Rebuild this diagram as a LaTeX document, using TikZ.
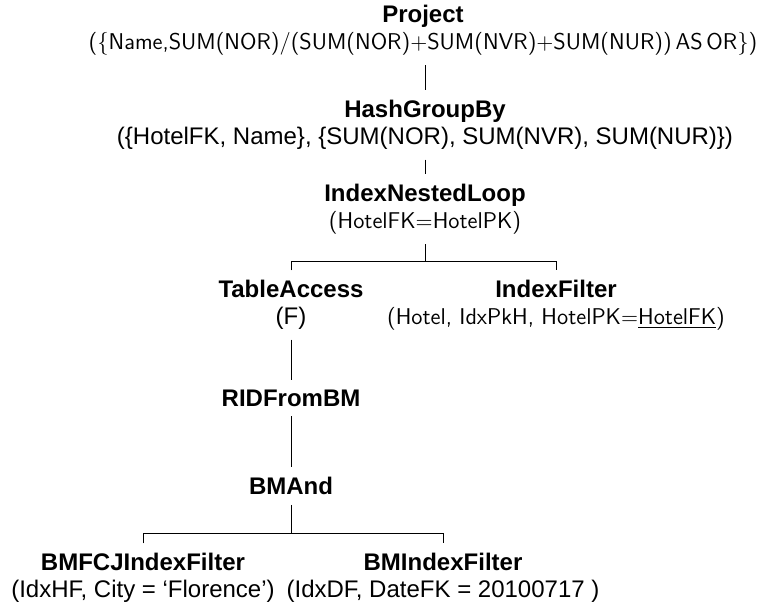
\documentclass[tikz,border=0pt]{standalone}
\usepackage{fontspec}
\newfontfamily\helv{Liberation Sans}
\newcommand{\argsf}{\sffamily\fontsize{11.4}{13.5}\selectfont}
\usetikzlibrary{positioning}
\tikzset{operator/.style={align=center, inner sep=0pt, outer sep=5pt, font=\helv\fontsize{12}{13.5}\selectfont}}

\begin{document}
\begin{tikzpicture}[x=0.5pt, y=-0.5pt, every node/.style={operator}]
\useasboundingbox (0,0) rectangle (766,602);
\node (proj) at (423,30) {\textbf{Project}\\\argsf(\{Name,SUM(NOR)/(SUM(NOR)$+$SUM(NVR)$+$SUM(NUR))\,AS\,OR\})};
\node (hgb) at (425,125) {\textbf{HashGroupBy}\\(\{HotelFK, Name\}, \{SUM(NOR), SUM(NVR), SUM(NUR)\})};
\node (inl) at (425,209) {\textbf{IndexNestedLoop}\\\argsf(HotelFK$=$HotelPK)};
\node (ta) at (291,305) {\textbf{TableAccess}\\(F)};
\node (if) at (556,305) {\textbf{IndexFilter}\\\argsf(Hotel, IdxPkH, HotelPK$=$\underline{HotelFK})};
\node (rid) at (291,398) {\textbf{RIDFromBM}};
\node (bmand) at (291,486) {\textbf{BMAnd}};
\node (bmf) at (143,578) {\textbf{BMFCJIndexFilter}\\(IdxHF, City = ‘Florence’)};
\node (bmi) at (443,578) {\textbf{BMIndexFilter}\\(IdxDF, DateFK = 20100717 )};
% joints of the two brackets
\coordinate (j1) at (425,261);
\coordinate (j2) at (291,533);
\draw (proj.south -| hgb) -- (hgb);
\draw (hgb) -- (inl);
\draw (inl) -- (j1);
\draw (ta) |- (j1) -| (if);
\draw (ta) -- (rid);
\draw (rid) -- (bmand);
\draw (bmand) -- (j2);
\draw (bmf) |- (j2) -| (bmi);
\end{tikzpicture}
\end{document}
